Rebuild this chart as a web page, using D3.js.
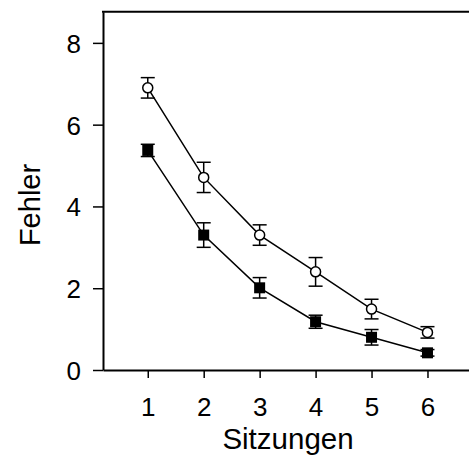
<!DOCTYPE html>
<html>
<head>
<meta charset="utf-8">
<script src="https://cdn.jsdelivr.net/npm/d3@7"></script>
<style>
  body { margin: 0; background: #fff; }
  svg { display: block; }
  text { font-family: "Liberation Sans", Arial, sans-serif; fill: #000; }
</style>
</head>
<body>
<div id="chart"></div>
<script>
// sessions and mean errors (+/- error bar)
const sessions = [1, 2, 3, 4, 5, 6];
const openMean = [6.9, 4.71, 3.3, 2.4, 1.49, 0.92];
const openErr  = [0.25, 0.37, 0.25, 0.35, 0.24, 0.14];
const fillMean = [5.37, 3.3, 2.01, 1.18, 0.8, 0.42];
const fillErr  = [0.15, 0.3, 0.25, 0.16, 0.19, 0.08];
const yTicks = [0, 2, 4, 6, 8];

const width = 469, height = 457;

const svg = d3.select("#chart")
  .append("svg")
    .attr("width", width)
    .attr("height", height);

// scales: left edge of the frame sits at ~0.2, frame runs off the right side
const x = d3.scaleLinear()
  .domain([0.2, 6.76])
  .range([103, 470]);

const y = d3.scaleLinear()
  .domain([0, 8.76])
  .range([370, 11.8]);

// Y axis
const gy = svg.append("g")
  .attr("transform", `translate(${x(0.2)}, 0)`)
  .call(d3.axisLeft(y).tickValues(yTicks).tickFormat(d3.format("d"))
    .tickSizeInner(10).tickSizeOuter(0).tickPadding(12));
gy.selectAll("text").style("font-size", "26px").attr("dy", "0.36em");

// X axis
const gx = svg.append("g")
  .attr("transform", `translate(0, ${y(0)})`)
  .call(d3.axisBottom(x).tickValues(sessions).tickFormat(d3.format("d"))
    .tickSizeInner(8).tickSizeOuter(0).tickPadding(20));
gx.selectAll("text").style("font-size", "26px");

svg.selectAll(".domain").attr("stroke-width", 2);
svg.selectAll(".tick line").attr("stroke-width", 1.5);

// top frame line
svg.append("line")
  .attr("x1", x(0.2) - 1).attr("x2", width)
  .attr("y1", y(8.76)).attr("y2", y(8.76))
  .attr("stroke", "#000")
  .attr("stroke-width", 2);

// axis titles
svg.append("text")
  .attr("x", 288)
  .attr("y", 449)
  .attr("text-anchor", "middle")
  .style("font-size", "29.5px")
  .text("Sitzungen");

svg.append("text")
  .attr("transform", `translate(40, 205) rotate(-90)`)
  .attr("text-anchor", "middle")
  .style("font-size", "29px")
  .text("Fehler");

const line = d3.line()
  .x(d => x(d[0]))
  .y(d => y(d[1]));

function drawSeries(means, errs, shape) {
  const data = sessions.map((s, i) => [s, means[i], errs[i]]);

  svg.append("path")
    .datum(data)
    .attr("fill", "none")
    .attr("stroke", "#000")
    .attr("stroke-width", 1.5)
    .attr("d", line);

  // error bars
  const eb = svg.append("g")
    .attr("stroke", "#000")
    .attr("stroke-width", 1.5);
  eb.selectAll("line.v")
    .data(data)
    .enter()
    .append("line")
      .attr("x1", d => x(d[0]))
      .attr("x2", d => x(d[0]))
      .attr("y1", d => y(d[1] - d[2]))
      .attr("y2", d => y(d[1] + d[2]));
  [-1, 1].forEach(sign => {
    eb.selectAll("line.c" + (sign > 0 ? "t" : "b"))
      .data(data)
      .enter()
      .append("line")
        .attr("x1", d => x(d[0]) - 7)
        .attr("x2", d => x(d[0]) + 7)
        .attr("y1", d => y(d[1] + sign * d[2]))
        .attr("y2", d => y(d[1] + sign * d[2]));
  });

  if (shape === "circle") {
    svg.selectAll("circle.m")
      .data(data)
      .enter()
      .append("circle")
        .attr("cx", d => x(d[0]))
        .attr("cy", d => y(d[1]))
        .attr("r", 5)
        .attr("fill", "#fff")
        .attr("stroke", "#000")
        .attr("stroke-width", 1.5);
  } else {
    svg.selectAll("rect.m")
      .data(data)
      .enter()
      .append("rect")
        .attr("x", d => x(d[0]) - 5.5)
        .attr("y", d => y(d[1]) - 5.5)
        .attr("width", 11)
        .attr("height", 11)
        .attr("fill", "#000");
  }
}

drawSeries(fillMean, fillErr, "rect");
drawSeries(openMean, openErr, "circle");
</script>
</body>
</html>
